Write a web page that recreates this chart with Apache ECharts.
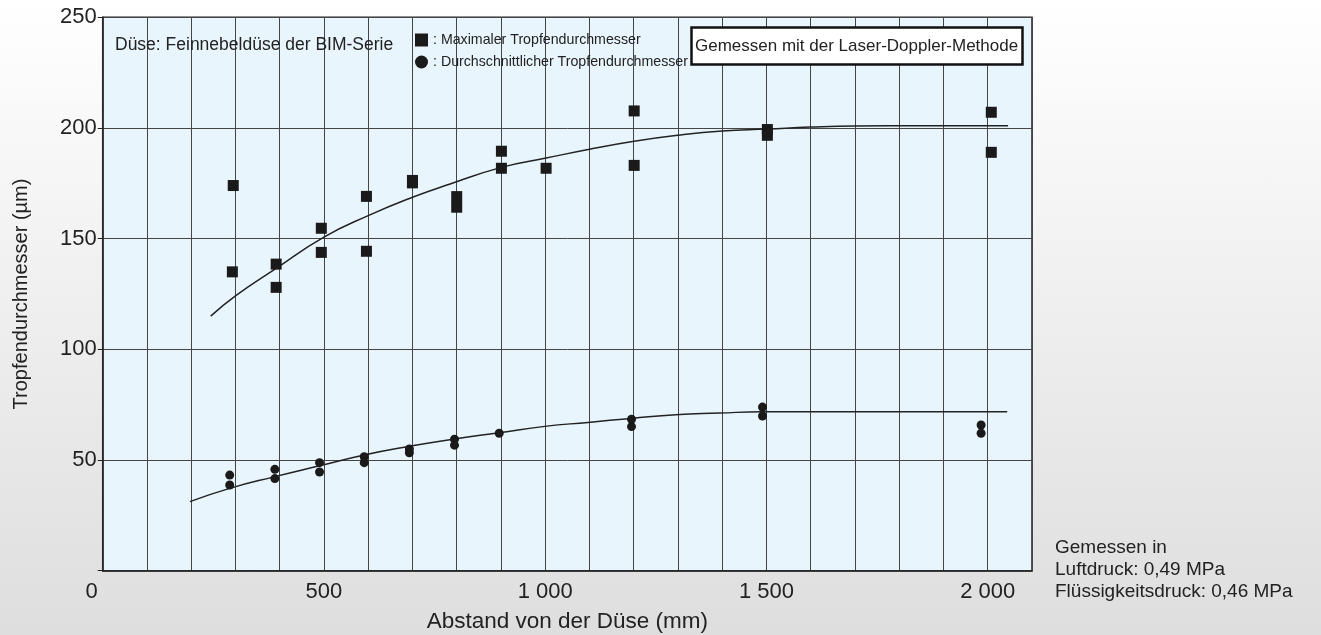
<!DOCTYPE html>
<html>
<head>
<meta charset="utf-8">
<script src="https://cdn.jsdelivr.net/npm/echarts@6/dist/echarts.min.js"></script>
<style>
  html, body { margin: 0; padding: 0; }
  #chart {
    width: 1321px; height: 635px;
    background: linear-gradient(to bottom, #ffffff 0%, #f0f0f0 45%, #dedede 100%);
  }
</style>
</head>
<body>
<div id="chart"></div>
<script>
// Maximaler Tropfendurchmesser (squares)
var maxDist = [295, 293, 392, 392, 494, 494, 596, 596, 700, 700, 800, 800, 901, 901, 1002, 1201, 1201, 1502, 1502, 2008, 2008];
var maxDia  = [174, 135, 138.5, 128, 154.7, 143.8, 169.1, 144.3, 176.3, 175.2, 169, 164.2, 189.5, 181.8, 181.8, 207.7, 183.1, 199.3, 196.7, 207.1, 189];

// Durchschnittlicher Tropfendurchmesser (circles)
var avgDist = [287, 287, 389, 389, 490, 490, 591, 591, 693, 693, 795, 795, 896, 1195, 1195, 1491, 1491, 1985, 1985];
var avgDia  = [43.2, 38.7, 45.8, 41.6, 48.8, 44.6, 51.5, 48.8, 55, 53.3, 59.4, 56.7, 62.1, 68.4, 65.1, 73.9, 69.9, 65.8, 62.1];

// fitted curves
var maxCurveX = [244, 300, 392, 499, 600, 700, 785, 901, 1002, 1100, 1201, 1300, 1400, 1502, 1600, 1700, 1850, 2046];
var maxCurveY = [115, 124.2, 136.6, 150.6, 160.4, 168.7, 174.7, 182.2, 186.4, 190.4, 194, 196.7, 198.6, 199.5, 200.4, 200.9, 201, 201];
var avgCurveX = [197, 287, 389, 490, 591, 693, 795, 896, 999, 1097, 1195, 1295, 1393, 1491, 2044];
var avgCurveY = [31.2, 37.2, 42.5, 47.4, 52.3, 56.2, 59.5, 62.3, 65.2, 67, 68.8, 70.5, 71.2, 71.8, 71.8];

var xTicks = [0, 500, 1000, 1500, 2000];
var yTicks = [50, 100, 150, 200, 250];

function zip(a, b) {
  return a.map(function (v, i) { return [v, b[i]]; });
}
function fmt(v) {
  return String(v).replace(/\B(?=(\d{3})+$)/, ' ');
}

var font = 'Liberation Sans, Arial, Helvetica, sans-serif';
var ink = '#1a1a1a';

var chart = echarts.init(document.getElementById('chart'));
chart.setOption({
  backgroundColor: 'transparent',
  textStyle: { fontFamily: font, color: '#222' },
  animation: false,
  title: [
    {
      text: 'Düse: Feinnebeldüse der BIM-Serie',
      left: 115, top: 36, padding: 0,
      textStyle: { fontSize: 17.5, fontWeight: 'normal', color: '#222', fontFamily: font }
    },
    {
      text: 'Gemessen mit der Laser-Doppler-Methode',
      left: 691, top: 27, padding: [9, 5, 9, 4],
      backgroundColor: '#ffffff', borderColor: '#111', borderWidth: 2.5,
      textStyle: { fontSize: 17, lineHeight: 20, fontWeight: 'normal', color: '#222', fontFamily: font }
    },
    {
      text: 'Gemessen in\nLuftdruck: 0,49 MPa\nFlüssigkeitsdruck: 0,46 MPa',
      left: 1055, top: 537, padding: 0,
      textStyle: { fontSize: 19, lineHeight: 22, fontWeight: 'normal', color: '#222', fontFamily: font }
    }
  ],
  legend: {
    data: ['Maximaler Tropfendurchmesser', 'Durchschnittlicher Tropfendurchmesser'],
    orient: 'vertical',
    left: 415, top: 33, padding: 0,
    itemWidth: 13, itemHeight: 13, itemGap: 8,
    selectedMode: false,
    formatter: ': {name}',
    itemStyle: { opacity: 1 },
    textStyle: { fontSize: 14.2, lineHeight: 14, color: '#222', fontFamily: font }
  },
  grid: {
    left: 102.7, right: 289, top: 17.3, bottom: 64.3,
    outerBoundsMode: 'none', containLabel: false,
    show: true, backgroundColor: '#e9f5fd', borderColor: '#222', borderWidth: 1.5
  },
  xAxis: {
    type: 'value', min: 0, max: 2100, interval: 100,
    name: 'Abstand von der Düse (mm)', nameLocation: 'middle', nameGap: 40,
    nameTextStyle: { fontSize: 22.5, color: '#222', fontFamily: font },
    axisLine: { show: true, lineStyle: { color: '#222', width: 1.5 } },
    axisTick: { show: false },
    splitLine: { show: true, lineStyle: { color: '#454545', width: 1 } },
    axisLabel: {
      margin: 10, fontSize: 22, color: '#222', fontFamily: font,
      formatter: function (v) {
        if (v === 0) return '{z|0}';
        return xTicks.indexOf(v) >= 0 ? fmt(v) : '';
      },
      rich: { z: { fontSize: 22, color: '#222', fontFamily: font, padding: [0, 22, 0, 0] } }
    }
  },
  yAxis: {
    type: 'value', min: 0, max: 250, interval: 50,
    name: 'Tropfendurchmesser (µm)', nameLocation: 'middle', nameGap: 71,
    nameTextStyle: { fontSize: 20, color: '#222', fontFamily: font },
    axisLine: { show: true, lineStyle: { color: '#222', width: 1.5 } },
    axisTick: { show: true, length: 5, lineStyle: { color: '#222' } },
    splitLine: { show: true, lineStyle: { color: '#454545', width: 1 } },
    axisLabel: {
      margin: 6, fontSize: 22, color: '#222', fontFamily: font,
      formatter: function (v) { return yTicks.indexOf(v) >= 0 ? String(v) : ''; }
    }
  },
  series: [
    {
      name: 'Maximaler Tropfendurchmesser', type: 'scatter',
      symbol: 'rect', symbolSize: 11,
      itemStyle: { color: ink, opacity: 1 },
      data: zip(maxDist, maxDia), z: 4
    },
    {
      name: 'Durchschnittlicher Tropfendurchmesser', type: 'scatter',
      symbol: 'circle', symbolSize: 9,
      itemStyle: { color: ink, opacity: 1 },
      data: zip(avgDist, avgDia), z: 4
    },
    {
      name: 'maxFit', type: 'line', smooth: 0.5,
      showSymbol: false, symbol: 'none',
      lineStyle: { color: '#222', width: 1.5 },
      data: zip(maxCurveX, maxCurveY), z: 3
    },
    {
      name: 'avgFit', type: 'line', smooth: 0.5,
      showSymbol: false, symbol: 'none',
      lineStyle: { color: '#222', width: 1.5 },
      data: zip(avgCurveX, avgCurveY), z: 3
    }
  ]
});
</script>
</body>
</html>
